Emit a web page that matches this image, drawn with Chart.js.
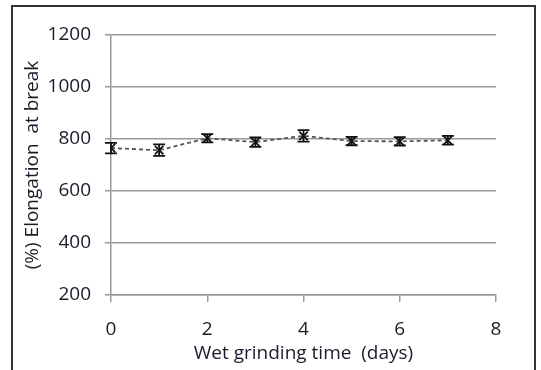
<!DOCTYPE html>
<html>
<head>
<meta charset="utf-8">
<script src="https://cdn.jsdelivr.net/npm/chart.js@4"></script>
<style>
  html, body { margin: 0; padding: 0; background: #fff; }
  #wrap { position: relative; width: 541px; height: 370px; overflow: hidden; }
  #frame { position: absolute; left: 11px; top: 5px; width: 521px; height: 400px; border: 2px solid #333; }
  canvas { position: absolute; left: 0; top: 0; }
</style>
</head>
<body>
<div id="wrap">
  <div id="frame"></div>
  <canvas id="chart" width="541" height="370"></canvas>
</div>
<script>
const days = [0, 1, 2, 3, 4, 5, 6, 7];
const elongation = [765, 757, 803, 788, 812, 792, 791, 795];
const errors = [20, 22, 16, 18, 22, 16, 16, 17];
const xTicks = [0, 2, 4, 6, 8];
const yTicks = [200, 400, 600, 800, 1000, 1200];

const font = "'Open Sans', 'Noto Sans', sans-serif";
const textColor = '#1a1a2a';

const errorBars = {
    id: 'errorBars',
    afterDatasetsDraw(chart) {
        const ctx = chart.ctx;
        const xs = chart.scales.x;
        const ys = chart.scales.y;
        ctx.save();
        ctx.strokeStyle = '#111';
        ctx.lineWidth = 1.8;
        days.forEach((d, i) => {
            const x = xs.getPixelForValue(d);
            const top = ys.getPixelForValue(elongation[i] + errors[i]);
            const bot = ys.getPixelForValue(elongation[i] - errors[i]);
            ctx.beginPath();
            ctx.moveTo(x, top); ctx.lineTo(x, bot);
            ctx.moveTo(x - 6, top); ctx.lineTo(x + 6, top);
            ctx.moveTo(x - 6, bot); ctx.lineTo(x + 6, bot);
            ctx.stroke();
        });
        ctx.restore();
    }
};

new Chart(document.getElementById('chart'), {
    type: 'line',
    data: {
        datasets: [{
            data: days.map((d, i) => ({ x: d, y: elongation[i] })),
            borderColor: '#555',
            borderWidth: 1.8,
            borderDash: [4, 3],
            pointStyle: 'crossRot',
            pointRadius: 6,
            pointBorderWidth: 1.8,
            pointBorderColor: '#111',
            fill: false,
            tension: 0
        }]
    },
    options: {
        responsive: false,
        animation: false,
        events: [],
        layout: { padding: { left: 15, right: 45, top: 35, bottom: 0 } },
        plugins: { legend: { display: false }, tooltip: { enabled: false } },
        scales: {
            x: {
                type: 'linear',
                min: 0,
                max: 8,
                afterBuildTicks: s => { s.ticks = xTicks.map(v => ({ value: v })); },
                afterFit: s => { s.height = 75; },
                grid: { drawOnChartArea: false, color: '#999', lineWidth: 1.5, tickLength: 7 },
                border: { color: '#999', width: 1.5 },
                ticks: { color: textColor, font: { family: font, size: 19 }, padding: 16, maxRotation: 0,
                         callback: v => String(v) },
                title: {
                    display: true,
                    text: 'Wet grinding time  (days)',
                    color: textColor,
                    font: { family: font, size: 19 },
                    padding: { top: 0, bottom: 5 }
                }
            },
            y: {
                min: 200,
                max: 1200,
                afterBuildTicks: s => { s.ticks = yTicks.map(v => ({ value: v })); },
                afterFit: s => { s.width = 96; },
                grid: { color: '#999', lineWidth: 1.5, tickLength: 6 },
                border: { color: '#999', width: 1.5 },
                ticks: { color: textColor, font: { family: font, size: 19 }, padding: 14,
                         callback: v => String(v) },
                title: {
                    display: true,
                    text: '(%) Elongation  at break',
                    color: textColor,
                    font: { family: font, size: 19 },
                    padding: { top: 6, bottom: 0 }
                }
            }
        }
    },
    plugins: [errorBars]
});
</script>
</body>
</html>
